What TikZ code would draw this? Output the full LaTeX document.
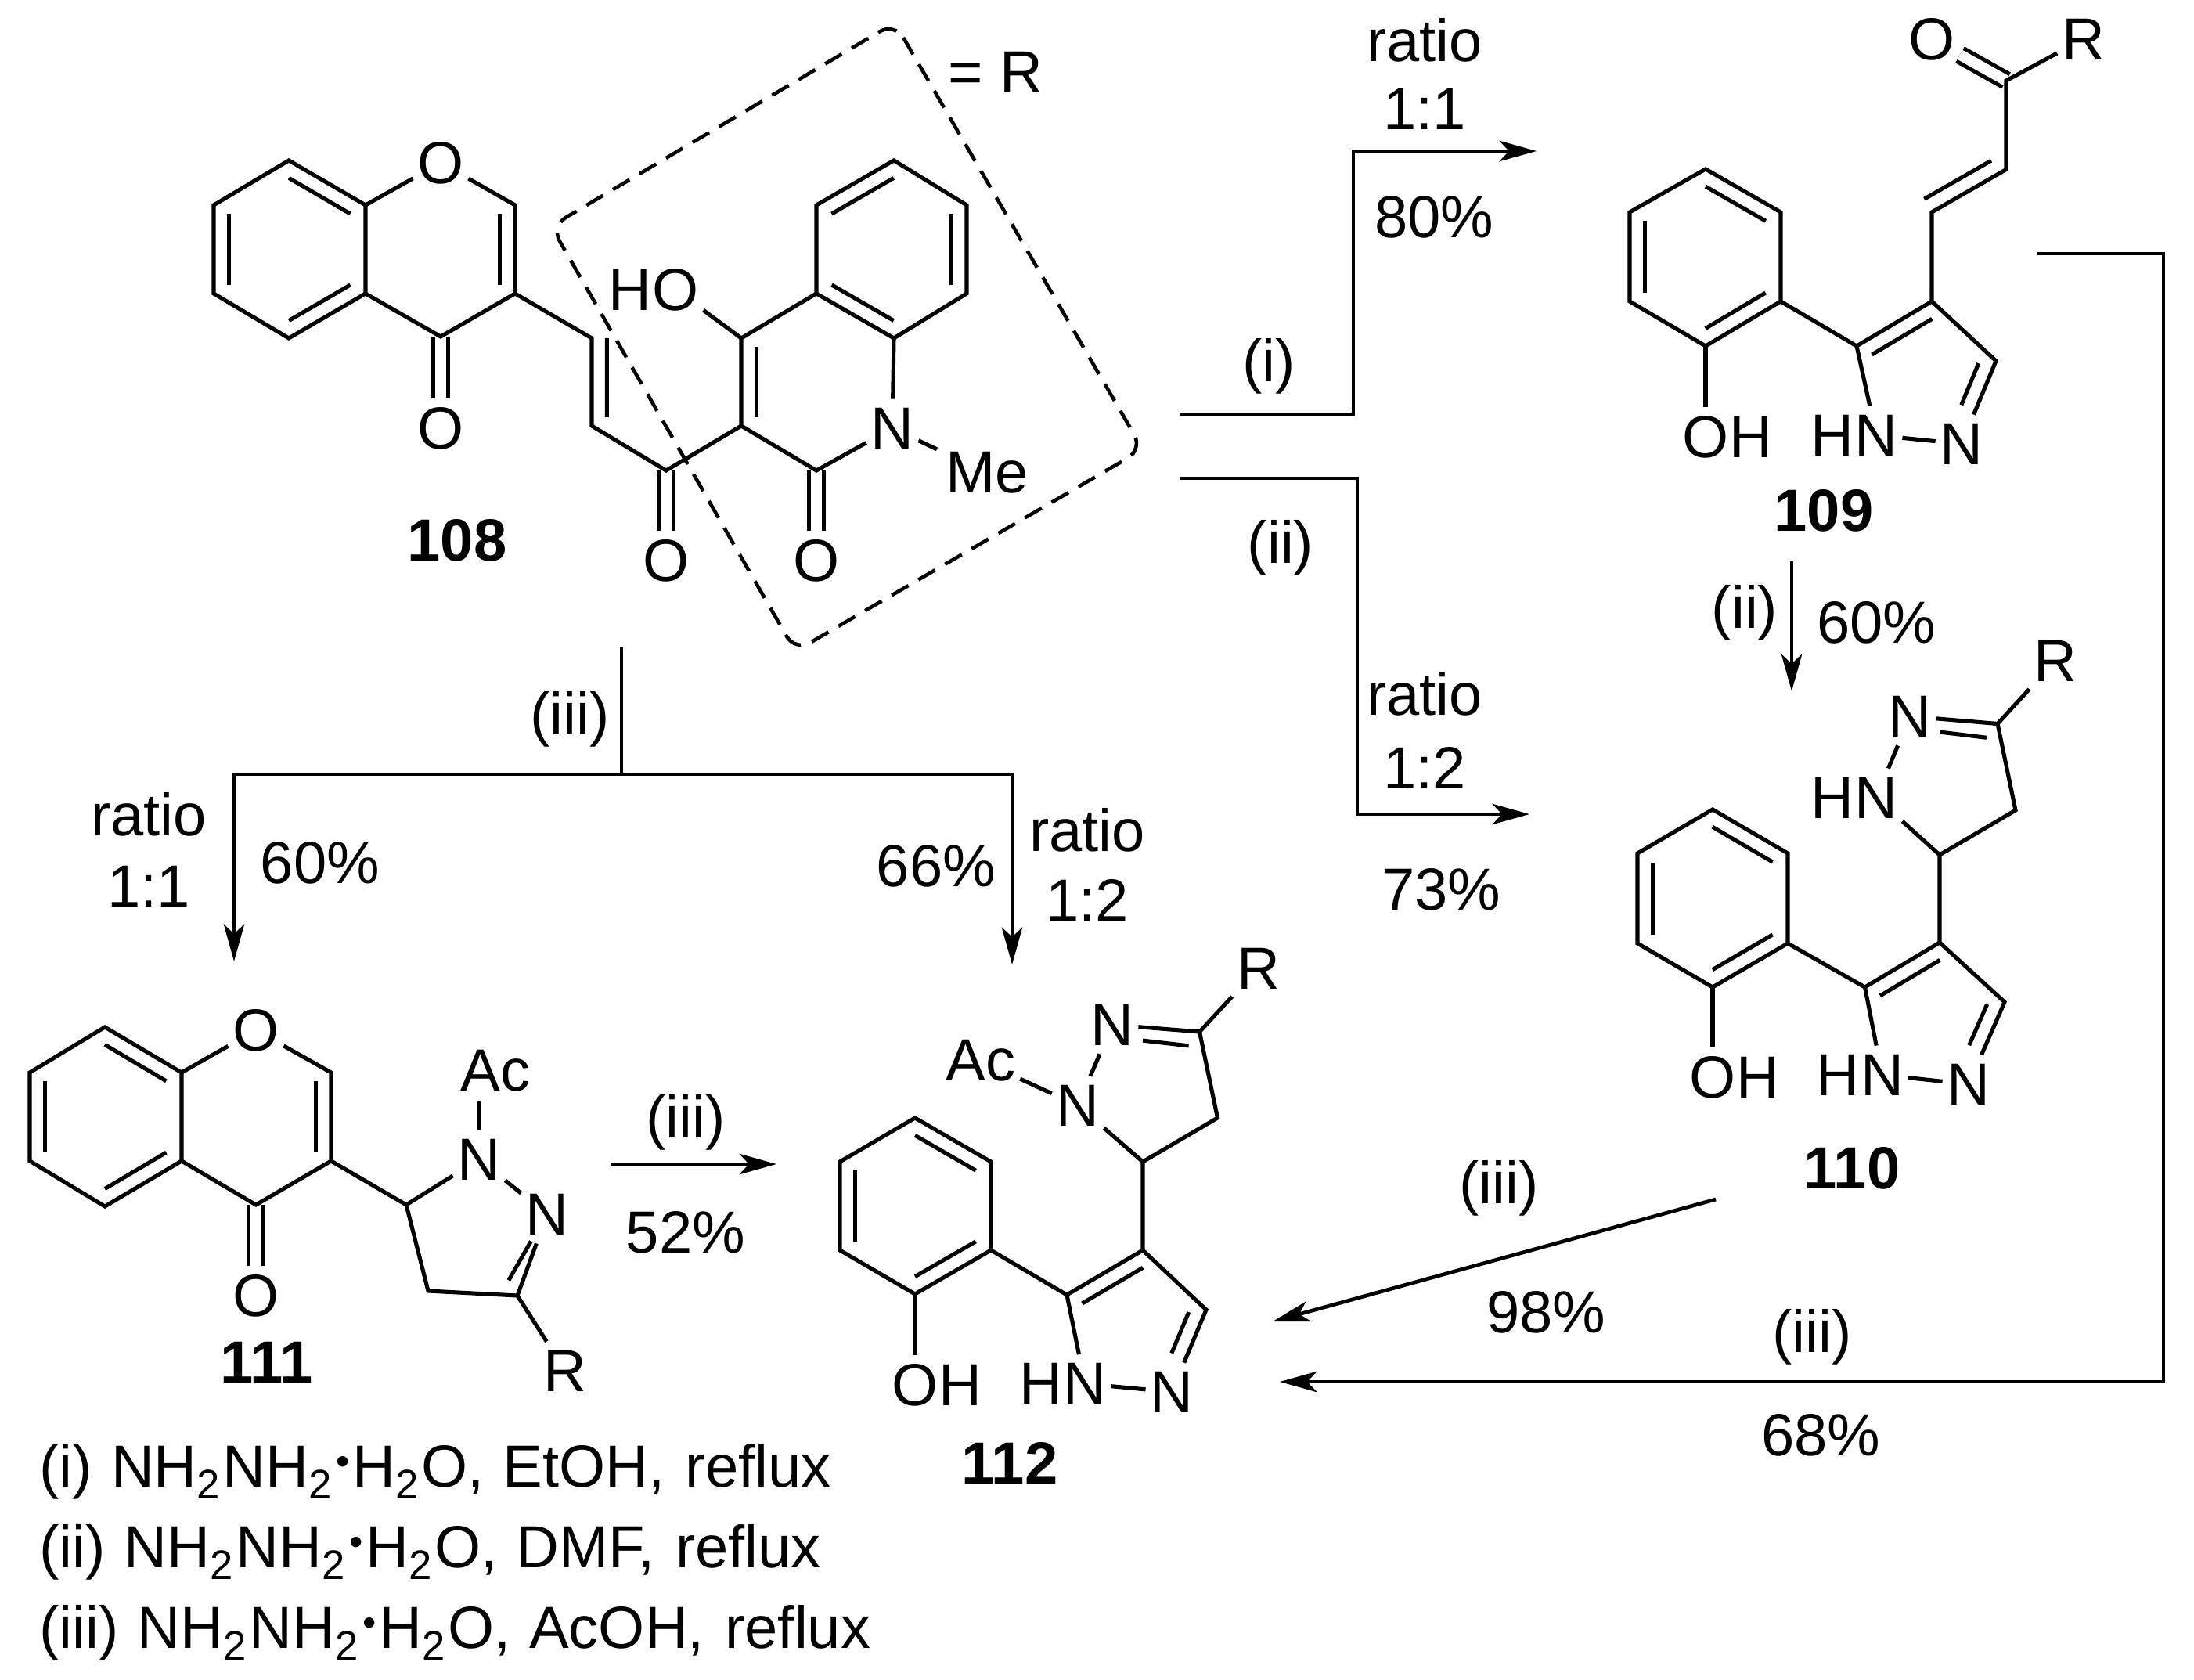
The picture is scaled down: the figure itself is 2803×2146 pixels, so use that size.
\documentclass[tikz,border=0pt]{standalone}
\usepackage{fontspec}
\setmainfont{Liberation Sans}
\usetikzlibrary{arrows.meta,calc}

\newcommand{\chemfont}{\fontsize{21.6pt}{26pt}\selectfont}
\newcommand{\subtwo}{\raisebox{-4.3pt}{\fontsize{15pt}{16pt}\selectfont 2}\kern1pt}
\newcommand{\hydrate}{NH\subtwo NH\subtwo\kern.6pt\raisebox{4.5pt}{\fontsize{14pt}{15pt}\selectfont\textbullet}\kern1.2pt H\subtwo O}
% inner line of a double bond, on the right of the way from #2 to #3
\newcommand{\sidebond}[3][.1]{\draw[bond] ($(#2)!.1!(#3)!5.5pt!-90:(#3)$) -- ($(#3)!#1!(#2)!5.5pt!90:(#2)$);}

\begin{document}
\begin{tikzpicture}[
        x=0.01cm, y=-0.01cm,
        font=\chemfont,
        inner xsep=1.5pt, inner ysep=3pt,
        bond/.style={line width=1.45pt},
        dbond/.style={bond, double, double distance=3.9pt},
        atom/.style={},
        lab/.style={inner sep=0pt, label distance=-1.5pt},
        hleft/.style={atom, label={[lab]left:H}},
        hright/.style={atom, label={[lab]right:H}},
        txt/.style={anchor=base, inner sep=0pt},
        cpd/.style={txt, font=\chemfont\bfseries},
        route/.style={line width=1.35pt},
        arrow/.style={route, -{Stealth[length=13.5pt, width=7.5pt, inset=3.5pt]}},
        frame/.style={line width=1.3pt, dash pattern=on 7pt off 4.2pt, rounded corners=0.22cm}
    ]
        \useasboundingbox (0,0) rectangle (2803,2146);

        % Compound 108
        \foreach \n/\x/\y in {a1/369/205,a2/467/262,a3/467/375,a4/369/432,a5/273/375,a6/273/262,a7/658/262,a8/658/375,a9/563/430,a10/756/432,a11/756/544,a12/851/601,a13/947/544,a14/947/432,a15/1043/375,a16/1043/262,a17/1142/205,a18/1235/262,a19/1235/375,a20/1142/432,a21/1043/601}
            \coordinate (\n) at (\x,\y);
        \node[atom] (aO1) at (563,208) {O};
        \node[atom] (aO2) at (563,547) {O};
        \node[atom] (aO3) at (851,716) {O};
        \node[atom] (aO4) at (1043,716) {O};
        \node[hleft] (aOH) at (863,370) {O};
        \node[atom] (aN) at (1140,547) {N};
        \node[atom, inner xsep=3pt] (aMe) at (1261,604) {Me};
        \node[cpd] (a108) at (584,716) {108};
        \draw[dbond] (a9) -- (aO2);
        \draw[dbond] (a12) -- (aO3);
        \draw[dbond] (a21) -- (aO4);
        \draw[bond] (a1) -- (a2) -- (a3) -- (a4) -- (a5) -- (a6) -- cycle;
        \draw[bond] (a2) -- (aO1) -- (a7) -- (a8) -- (a9) -- (a3);
        \draw[bond] (a8) -- (a10) -- (a11) -- (a12) -- (a13) -- (a14) -- (a15) -- (a16) -- (a17) -- (a18) -- (a19) -- (a20) -- (a15);
        \draw[bond] (a14) -- (aOH);
        \draw[bond] (a13) -- (a21) -- (aN) -- (a20);
        \draw[bond] (aN) -- (aMe);
        \sidebond{a1}{a2} \sidebond{a3}{a4} \sidebond{a5}{a6} \sidebond{a7}{a8}
        \sidebond[0]{a11}{a10} \sidebond{a13}{a14}
        \sidebond{a16}{a17} \sidebond{a18}{a19} \sidebond{a20}{a15}
        % R box
        \coordinate (f1) at (1143,29);
        \coordinate (f2) at (1460,574);
        \coordinate (f3) at (1016,832);
        \coordinate (f4) at (704,289);
        \draw[frame] (f1) -- (f2) -- (f3) -- (f4) -- cycle;
        \node[txt] (fR) at (1272,119) {= R};

        % Compound 109
        \foreach \n/\x/\y in {b1/2179/216,b2/2275/271,b3/2275/385,b4/2179/442,b5/2082/385,b6/2082/271,b7/2372/442,b8/2468/385,b9/2550/461,b10/2468/271,b11/2563/216.5,b12/2563/103}
            \coordinate (\n) at (\x,\y);
        \node[atom] (bO) at (2468.5,50) {O};
        \node[atom] (bR) at (2661.5,50) {R};
        \node[hright] (bOH) at (2179,558) {O};
        \node[hleft] (bNH) at (2397,556) {N};
        \node[atom] (bN) at (2506,567) {N};
        \node[cpd] (b109) at (2330,679) {109};
        \draw[dbond] (b12) -- (bO);
        \draw[bond] (b1) -- (b2) -- (b3) -- (b4) -- (b5) -- (b6) -- cycle;
        \draw[bond] (b4) -- (bOH);
        \draw[bond] (b3) -- (b7) -- (b8) -- (b9) -- (bN) -- (bNH) -- (b7);
        \draw[bond] (b8) -- (b10) -- (b11) -- (b12) -- (bR);
        \sidebond{b1}{b2} \sidebond{b3}{b4} \sidebond{b5}{b6} \sidebond{b7}{b8}
        \sidebond[.4]{b9}{bN} \sidebond[0]{b11}{b10}

        % Compound 110
        \foreach \n/\x/\y in {c1/2188/1034,c2/2284/1090,c3/2284/1205,c4/2188/1261,c5/2092/1205,c6/2092/1090,c7/2382.5/1261,c8/2478/1204,c9/2561/1280,c10/2478/1092,c11/2575/1035,c12/2552/924.5}
            \coordinate (\n) at (\x,\y);
        \node[atom] (cR) at (2626,844) {R};
        \node[atom] (cN2) at (2440,915) {N};
        \node[hleft] (cNH2) at (2397,1019) {N};
        \node[hright] (cOH) at (2188,1376) {O};
        \node[hleft] (cNH) at (2404.5,1373) {N};
        \node[atom] (cN) at (2515,1385) {N};
        \node[cpd] (c110) at (2366,1518) {110};
        \draw[bond] (c1) -- (c2) -- (c3) -- (c4) -- (c5) -- (c6) -- cycle;
        \draw[bond] (c4) -- (cOH);
        \draw[bond] (c3) -- (c7) -- (c8) -- (c9) -- (cN) -- (cNH) -- (c7);
        \draw[bond] (c8) -- (c10) -- (c11) -- (c12) -- (cN2) -- (cNH2) -- (c10);
        \draw[bond] (c12) -- (cR);
        \sidebond{c1}{c2} \sidebond{c3}{c4} \sidebond{c5}{c6} \sidebond{c7}{c8}
        \sidebond[.4]{c9}{cN} \sidebond[.15]{cN2.east}{c12}

        % Compound 111
        \foreach \n/\x/\y in {d1/134/1312,d2/232/1370,d3/232/1483,d4/134/1541,d5/38/1483,d6/38/1370,d7/423/1370,d8/423/1483,d9/327/1539,d10/519/1539,d11/547/1649,d12/661/1655}
            \coordinate (\n) at (\x,\y);
        \node[atom] (dO1) at (327,1316) {O};
        \node[atom] (dO2) at (327,1655) {O};
        \node[atom] (dAc) at (633,1368) {Ac};
        \node[atom] (dN1) at (612,1481) {N};
        \node[atom] (dN2) at (699,1551) {N};
        \node[atom] (dR) at (722,1751) {R};
        \node[cpd] (d111) at (341,1766) {111};
        \draw[dbond] (d9) -- (dO2);
        \draw[bond] (d1) -- (d2) -- (d3) -- (d4) -- (d5) -- (d6) -- cycle;
        \draw[bond] (d2) -- (dO1) -- (d7) -- (d8) -- (d9) -- (d3);
        \draw[bond] (d8) -- (d10) -- (d11) -- (d12) -- (dN2) -- (dN1) -- (d10);
        \draw[bond] (d12) -- (dR);
        \draw[bond] (dAc.south -| dN1) -- (dN1);
        \sidebond{d1}{d2} \sidebond{d3}{d4} \sidebond{d5}{d6} \sidebond{d7}{d8}
        \sidebond[.15]{dN2.south}{d12}

        % Compound 112
        \foreach \n/\x/\y in {e1/1169/1428,e2/1266/1484,e3/1266/1597,e4/1169/1653,e5/1073/1597,e6/1073/1484,e7/1363/1654,e8/1460/1597,e9/1541/1673,e10/1460/1484,e11/1555.5/1428,e12/1532.5/1318}
            \coordinate (\n) at (\x,\y);
        \node[atom] (eR) at (1607.5,1237) {R};
        \node[atom] (eN2) at (1421,1309) {N};
        \node[atom] (eN1) at (1377,1412) {N};
        \node[atom] (eAc) at (1253,1355) {Ac};
        \node[hright] (eOH) at (1169,1769) {O};
        \node[hleft] (eNH) at (1386,1767.5) {N};
        \node[atom] (eN) at (1497,1778) {N};
        \node[cpd] (e112) at (1290,1895) {112};
        \draw[bond] (e1) -- (e2) -- (e3) -- (e4) -- (e5) -- (e6) -- cycle;
        \draw[bond] (e4) -- (eOH);
        \draw[bond] (e3) -- (e7) -- (e8) -- (e9) -- (eN) -- (eNH) -- (e7);
        \draw[bond] (e8) -- (e10) -- (e11) -- (e12) -- (eN2) -- (eN1) -- (e10);
        \draw[bond] (e12) -- (eR);
        \draw[bond] (eAc) -- (eN1);
        \sidebond{e1}{e2} \sidebond{e3}{e4} \sidebond{e5}{e6} \sidebond{e7}{e8}
        \sidebond[.4]{e9}{eN} \sidebond[.15]{eN2.east}{e12}

        % Arrows
        \foreach \n/\x/\y in {r1a/1507/529,r1b/1729/193,r1c/1963/193,r2a/1507/611,r2b/1734/1040,r2c/1954/1040,r3a/794/826,r3b/794/989,r3c/299/1228,r3d/1293/1232,r4a/2289/717,r4b/2289/883,r5a/780/1487,r5b/992/1487,r6a/2192/1532,r6b/1626/1688,r7a/2603/324,r7b/2764/1765,r7c/1635/1765}
            \coordinate (\n) at (\x,\y);
        \draw[arrow] (r1a) -| (r1b) -- (r1c);
        \draw[arrow] (r2a) -| (r2b) -- (r2c);
        \draw[route] (r3a) -- (r3b);
        \draw[arrow] (r3b) -| (r3c);
        \draw[arrow] (r3b) -| (r3d);
        \draw[arrow] (r4a) -- (r4b);
        \draw[arrow] (r5a) -- (r5b);
        \draw[arrow] (r6a) -- (r6b);
        \draw[arrow] (r7a) -| (r7b) -- (r7c);

        % Arrow labels
        \node[txt] (t1) at (1820,79) {ratio};
        \node[txt] (t2) at (1820,166) {1:1};
        \node[txt] (t3) at (1832,304) {80\%};
        \node[txt] (t4) at (1621,488) {(i)};
        \node[txt] (t5) at (1636,719) {(ii)};
        \node[txt] (t6) at (1820,913) {ratio};
        \node[txt] (t7) at (1820,1007) {1:2};
        \node[txt] (t8) at (1841,1162) {73\%};
        \node[txt] (t9) at (728,938) {(iii)};
        \node[txt] (t10) at (190,1067) {ratio};
        \node[txt] (t11) at (190,1158) {1:1};
        \node[txt] (t12) at (409,1128) {60\%};
        \node[txt] (t13) at (1196,1132) {66\%};
        \node[txt] (t14) at (1389,1087) {ratio};
        \node[txt] (t15) at (1389,1176) {1:2};
        \node[txt] (t16) at (876,1453) {(iii)};
        \node[txt] (t17) at (876,1600) {52\%};
        \node[txt] (t18) at (1915,1537) {(iii)};
        \node[txt] (t19) at (1975,1702) {98\%};
        \node[txt] (t20) at (2315,1727) {(iii)};
        \node[txt] (t21) at (2326,1859) {68\%};
        \node[txt] (t22) at (2229,802) {(ii)};
        \node[txt] (t23) at (2397,821) {60\%};

        % Conditions
        \node[txt, anchor=base west] (k1) at (50,1899) {(i) \kern.8pt\hydrate, \kern.8pt EtOH, \kern1.5pt reflux};
        \node[txt, anchor=base west] (k2) at (50,2002) {(ii) \kern.8pt\hydrate, \kern.8pt DMF, \kern1.5pt reflux};
        \node[txt, anchor=base west] (k3) at (50,2105) {(iii) \kern.8pt\hydrate, \kern.8pt AcOH, \kern1.5pt reflux};

    \end{tikzpicture}
\end{document}
